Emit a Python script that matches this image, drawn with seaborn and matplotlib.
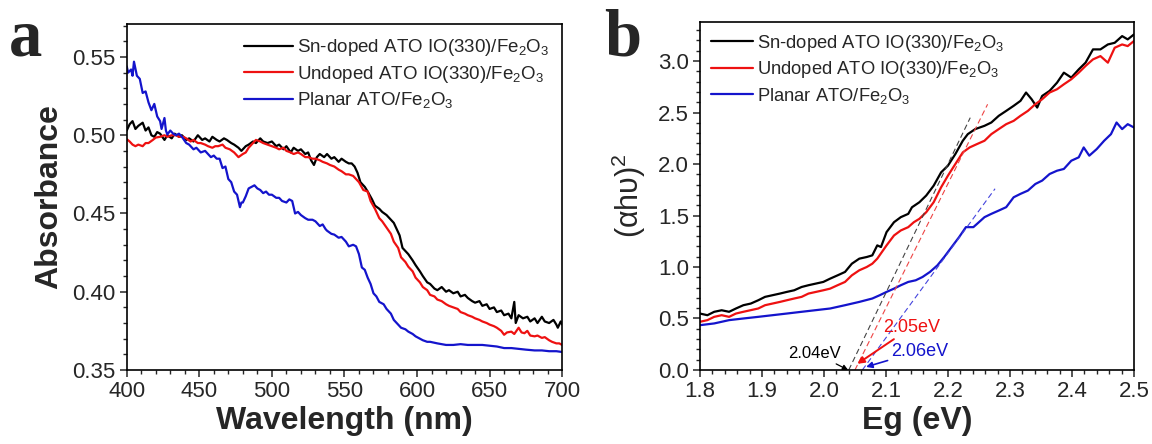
import matplotlib
matplotlib.use("Agg")
import matplotlib.pyplot as plt
import seaborn as sns

# ---- panel a: absorbance spectra ----
wl_sn = [400, 402, 404, 406, 408, 411, 413, 415, 417, 419, 421, 423, 426, 428, 431, 433, 436, 438,
         441, 443, 446, 449, 452, 454, 457, 459, 462, 464, 467, 469, 472, 474, 477, 479, 482, 484,
         487, 489, 492, 494, 497, 500, 503, 505, 508, 510, 513, 515, 518, 520, 523, 525, 527, 529,
         531, 533, 536, 538, 541, 543, 546, 548, 551, 553, 555, 557, 559, 561, 564, 566, 569, 571,
         574, 576, 579, 581, 584, 586, 588, 590, 592, 594, 597, 599, 602, 604, 607, 609, 612, 614,
         617, 620, 622, 625, 628, 630, 633, 635, 638, 640, 643, 645, 648, 650, 653, 655, 658, 660,
         663, 665, 667, 668, 670, 673, 676, 678, 681, 683, 686, 688, 691, 694, 696, 697, 699, 700]
ab_sn = [.503, .507, .509, .504, .506, .508, .503, .505, .500, .499, .502, .501, .497, .500, .498, .501, .499, .500,
         .497, .498, .496, .500, .497, .498, .496, .499, .497, .496, .498, .497, .495, .494, .492, .490, .493, .494,
         .496, .495, .498, .496, .495, .496, .493, .494, .491, .493, .489, .492, .490, .491, .488, .489, .484, .481,
         .486, .488, .486, .488, .485, .486, .483, .485, .483, .482, .482, .480, .476, .470, .467, .464, .459, .455,
         .453, .451, .449, .447, .444, .440, .436, .428, .426, .424, .420, .417, .413, .410, .406, .405, .402, .401,
         .403, .400, .401, .399, .400, .397, .398, .396, .394, .393, .394, .391, .392, .389, .390, .387, .388, .385,
         .386, .383, .3935, .380, .385, .383, .384, .381, .383, .380, .384, .381, .380, .382, .379, .377, .381, .379]

wl_un = [400, 402, 404, 406, 408, 411, 413, 415, 418, 420, 423, 426, 428, 431, 434, 436, 439, 441,
         444, 446, 449, 451, 454, 456, 459, 461, 463, 466, 468, 471, 474, 477, 480, 482, 484, 487,
         489, 492, 494, 497, 500, 503, 505, 508, 510, 513, 515, 518, 520, 523, 525, 528, 530, 533,
         535, 538, 540, 543, 546, 548, 551, 553, 556, 558, 560, 563, 566, 568, 571, 574, 576, 579,
         582, 584, 587, 589, 592, 594, 597, 599, 602, 604, 607, 609, 612, 614, 617, 620, 622, 625,
         628, 630, 633, 635, 638, 640, 643, 645, 648, 650, 653, 655, 658, 660, 662, 665, 667, 670,
         672, 674, 676, 678, 681, 683, 686, 688, 691, 693, 696, 698, 700]
ab_un = [.4975, .496, .494, .493, .494, .493, .495, .495, .497, .4985, .499, .500, .499, .500, .500, .499, .499, .498,
         .496, .497, .495, .495, .494, .493, .492, .493, .493, .494, .492, .491, .489, .486, .488, .489, .492, .495,
         .497, .496, .495, .494, .493, .492, .491, .492, .490, .489, .488, .489, .488, .486, .486, .485, .485, .484,
         .483, .482, .481, .480, .478, .477, .475, .475, .474, .472, .470, .465, .464, .458, .453, .447, .445, .441,
         .437, .432, .428, .422, .419, .416, .413, .409, .406, .403, .401, .398, .397, .395, .394, .392, .391, .390,
         .389, .387, .386, .385, .384, .383, .382, .381, .380, .379, .378, .377, .375, .3725, .374, .3745, .373, .377,
         .374, .3735, .375, .372, .3715, .372, .3705, .371, .369, .368, .367, .367, .366]

wl_pl = [400, 401, 403, 404, 405, 407, 409, 411, 413, 415, 417, 419, 421, 423, 424, 426, 427, 428,
         430, 432, 434, 436, 438, 441, 443, 446, 448, 451, 454, 456, 458, 460, 462, 464, 466, 468,
         470, 472, 474, 476, 478, 479, 480, 482, 484, 486, 488, 490, 492, 494, 496, 498, 500, 503,
         505, 507, 510, 512, 514, 516, 518, 520, 523, 525, 528, 530, 533, 535, 537, 538, 541, 543,
         546, 548, 551, 553, 556, 558, 560, 562, 564, 566, 568, 570, 572, 574, 577, 579, 582, 584,
         587, 589, 592, 594, 597, 599, 602, 604, 607, 609, 614, 620, 625, 630, 635, 640, 645, 650,
         655, 660, 665, 670, 675, 681, 686, 691, 696, 700]
ab_pl = [.544, .540, .542, .538, .547, .538, .536, .527, .528, .521, .516, .520, .512, .509, .504, .511, .503, .5005,
         .503, .501, .500, .501, .499, .495, .494, .491, .492, .489, .490, .488, .486, .487, .485, .485, .479, .480,
         .472, .470, .464, .462, .454, .457, .457, .461, .466, .467, .468, .466, .465, .463, .464, .462, .462, .460,
         .460, .458, .457, .459, .458, .450, .451, .449, .447, .446, .446, .445, .442, .443, .440, .439, .437, .4365,
         .4345, .435, .432, .429, .430, .429, .424, .4155, .414, .409, .405, .399, .397, .3935, .392, .389, .386, .382,
         .379, .377, .376, .3745, .373, .3715, .370, .369, .368, .368, .367, .366, .366, .3665, .366, .366, .366, .3655,
         .365, .364, .364, .3635, .363, .3625, .3625, .362, .362, .3615]

# ---- panel b: Tauc plots ----
eg_sn = [1.800, 1.812, 1.823, 1.835, 1.847, 1.858, 1.870, 1.882, 1.894, 1.905, 1.917, 1.929, 1.940, 1.952,
         1.964, 1.975, 1.987, 1.999, 2.010, 2.022, 2.034, 2.045, 2.057, 2.069, 2.078, 2.086, 2.092, 2.101,
         2.113, 2.124, 2.136, 2.142, 2.154, 2.165, 2.177, 2.189, 2.200, 2.212, 2.224, 2.232, 2.244, 2.259,
         2.270, 2.282, 2.294, 2.306, 2.317, 2.326, 2.335, 2.344, 2.352, 2.364, 2.376, 2.387, 2.399, 2.411,
         2.422, 2.434, 2.446, 2.458, 2.469, 2.481, 2.490, 2.500]
ah_sn = [0.548, 0.532, 0.565, 0.580, 0.565, 0.597, 0.629, 0.645, 0.677, 0.710, 0.726, 0.742, 0.758, 0.774,
         0.806, 0.823, 0.839, 0.855, 0.887, 0.919, 0.952, 1.032, 1.081, 1.097, 1.113, 1.210, 1.194, 1.339,
         1.435, 1.484, 1.516, 1.580, 1.629, 1.694, 1.790, 1.919, 1.984, 2.097, 2.226, 2.290, 2.339, 2.371,
         2.403, 2.468, 2.516, 2.565, 2.613, 2.694, 2.629, 2.548, 2.661, 2.710, 2.790, 2.887, 2.839, 2.919,
         2.984, 3.113, 3.113, 3.161, 3.177, 3.242, 3.210, 3.258]

eg_un = [1.800, 1.812, 1.823, 1.835, 1.847, 1.858, 1.870, 1.882, 1.894, 1.905, 1.917, 1.929, 1.940, 1.952,
         1.964, 1.975, 1.987, 1.999, 2.010, 2.022, 2.034, 2.045, 2.057, 2.069, 2.078, 2.086, 2.101, 2.113,
         2.124, 2.136, 2.145, 2.154, 2.165, 2.177, 2.189, 2.200, 2.212, 2.224, 2.235, 2.247, 2.259, 2.270,
         2.282, 2.294, 2.306, 2.317, 2.329, 2.341, 2.352, 2.364, 2.376, 2.387, 2.399, 2.411, 2.422, 2.434,
         2.446, 2.458, 2.469, 2.481, 2.490, 2.500]
ah_un = [0.468, 0.484, 0.516, 0.532, 0.516, 0.548, 0.565, 0.581, 0.597, 0.629, 0.645, 0.661, 0.677, 0.694,
         0.710, 0.742, 0.758, 0.774, 0.790, 0.823, 0.855, 0.919, 0.968, 1.000, 1.032, 1.081, 1.210, 1.306,
         1.355, 1.387, 1.435, 1.468, 1.532, 1.629, 1.774, 1.887, 2.000, 2.113, 2.161, 2.194, 2.226, 2.290,
         2.339, 2.387, 2.419, 2.468, 2.516, 2.581, 2.629, 2.694, 2.726, 2.774, 2.823, 2.887, 2.952, 3.016,
         3.048, 2.984, 3.129, 3.161, 3.145, 3.194]

eg_pl = [1.800, 1.823, 1.847, 1.870, 1.894, 1.917, 1.940, 1.964, 1.987, 2.010, 2.034, 2.057, 2.078, 2.090,
         2.101, 2.113, 2.124, 2.136, 2.148, 2.159, 2.171, 2.183, 2.194, 2.206, 2.218, 2.229, 2.241, 2.247,
         2.259, 2.270, 2.282, 2.294, 2.306, 2.317, 2.329, 2.341, 2.352, 2.364, 2.376, 2.387, 2.399, 2.411,
         2.419, 2.428, 2.440, 2.452, 2.463, 2.472, 2.481, 2.490, 2.500]
ah_pl = [0.435, 0.452, 0.484, 0.500, 0.516, 0.532, 0.548, 0.565, 0.581, 0.597, 0.629, 0.661, 0.694, 0.726,
         0.758, 0.790, 0.823, 0.855, 0.871, 0.903, 0.952, 1.016, 1.097, 1.194, 1.290, 1.387, 1.387, 1.419,
         1.484, 1.516, 1.548, 1.581, 1.677, 1.710, 1.742, 1.806, 1.839, 1.903, 1.935, 1.952, 2.032, 2.065,
         2.161, 2.081, 2.145, 2.226, 2.290, 2.403, 2.339, 2.387, 2.355]

# tangent fits: (x0, y0, x1, y1)
tan_sn = [2.040, 0.0, 2.236, 2.45]
tan_un = [2.050, 0.0, 2.264, 2.58]
tan_pl = [2.062, 0.0, 2.276, 1.76]

labels = ["Sn-doped ATO IO(330)/Fe$_\\mathregular{2}$O$_\\mathregular{3}$",
          "Undoped ATO IO(330)/Fe$_\\mathregular{2}$O$_\\mathregular{3}$",
          "Planar ATO/Fe$_\\mathregular{2}$O$_\\mathregular{3}$"]
colors = ["black", "#ee1111", "#1414cc"]

sns.set_style("ticks")
plt.rcParams['font.family'] = ['Liberation Sans', 'DejaVu Sans']
plt.rcParams['mathtext.fontset'] = 'custom'
plt.rcParams['mathtext.rm'] = 'Liberation Sans'
plt.rcParams['xtick.direction'] = 'out'
plt.rcParams['ytick.direction'] = 'out'
plt.rcParams['axes.linewidth'] = 1.2

fig = plt.figure(figsize=(11.52, 4.44), dpi=100)
ax1 = fig.add_axes([0.110, 0.1667, 0.378, 0.779])
ax2 = fig.add_axes([0.6076, 0.1667, 0.3767, 0.784])

for x, y, c, lab in zip([wl_sn, wl_un, wl_pl], [ab_sn, ab_un, ab_pl], colors, labels):
    sns.lineplot(x=x, y=y, ax=ax1, color=c, lw=1.6, label=lab, sort=False)

for x, y, c, lab in zip([eg_sn, eg_un, eg_pl], [ah_sn, ah_un, ah_pl], colors, labels):
    sns.lineplot(x=x, y=y, ax=ax2, color=c, lw=1.6, label=lab, sort=False)

for t, c in zip([tan_sn, tan_un, tan_pl], ["#444444", "#ee4444", "#4444dd"]):
    ax2.plot([t[0], t[2]], [t[1], t[3]], ls=(0, (5, 3)), color=c, lw=0.8)

ax1.set_xlim(400, 700)
ax1.set_ylim(0.35, 0.571)
ax1.set_xticks([400, 450, 500, 550, 600, 650, 700])
ax1.set_yticks([0.35, 0.40, 0.45, 0.50, 0.55])
ax1.set_xlabel("Wavelength (nm)", fontsize=23, fontweight='bold', labelpad=3)
ax1.set_ylabel("Absorbance", fontsize=23, fontweight='bold', labelpad=6)

ax2.set_xlim(1.8, 2.5)
ax2.set_ylim(0, 3.38)
ax2.set_xticks([1.8, 1.9, 2.0, 2.1, 2.2, 2.3, 2.4, 2.5])
ax2.set_yticks([0.0, 0.5, 1.0, 1.5, 2.0, 2.5, 3.0])
ax2.set_xlabel("Eg (eV)", fontsize=23, fontweight='bold', labelpad=3)
ax2.set_ylabel("(\u03b1h\u03c5)$^\\mathregular{2}$", fontsize=22, labelpad=7)

for ax in (ax1, ax2):
    ax.minorticks_on()
    ax.tick_params(which='major', labelsize=16, length=5, width=1.1, pad=3, top=False, right=False)
    ax.tick_params(which='minor', length=3, width=1.0, top=False, right=False)
    for s in ax.spines.values():
        s.set_visible(True)
        s.set_color('black')

ax1.xaxis.set_major_formatter(matplotlib.ticker.FormatStrFormatter('%d'))
ax1.yaxis.set_major_formatter(matplotlib.ticker.FormatStrFormatter('%.2f'))
ax2.xaxis.set_major_formatter(matplotlib.ticker.FormatStrFormatter('%.1f'))
ax2.yaxis.set_major_formatter(matplotlib.ticker.FormatStrFormatter('%.1f'))

ax1.legend(loc='upper right', frameon=False, fontsize=13.5, handlelength=2.6,
           handletextpad=0.2, labelspacing=0.3, borderaxespad=0.3)
ax2.legend(loc='upper left', frameon=False, fontsize=13.2, handlelength=2.3,
           handletextpad=0.2, labelspacing=0.3, borderaxespad=0.2)

# band gap annotations
ax2.annotate("2.04eV", xy=(2.039, 0.0), xytext=(1.943, 0.12), fontsize=12,
             color='black', arrowprops=dict(arrowstyle='-|>', color='black', lw=0.9,
                                             shrinkA=0, shrinkB=0, mutation_scale=8))
ax2.annotate("2.05eV", xy=(2.054, 0.06), xytext=(2.095, 0.37), fontsize=13,
             color='#ee1111', arrowprops=dict(arrowstyle='-|>', color='#ee1111', lw=1.4,
                                               shrinkA=0, shrinkB=0, mutation_scale=10))
ax2.annotate("2.06eV", xy=(2.068, 0.03), xytext=(2.108, 0.14), fontsize=13,
             color='#1414cc', arrowprops=dict(arrowstyle='-|>', color='#1414cc', lw=1.2,
                                               shrinkA=0, shrinkB=0, mutation_scale=9))

fig.text(0.008, 0.875, "a", fontsize=48, fontweight='bold', family=['Liberation Serif'])
fig.text(0.524, 0.875, "b", fontsize=48, fontweight='bold', family=['Liberation Serif'])

fig.savefig("out.png", dpi=100)
